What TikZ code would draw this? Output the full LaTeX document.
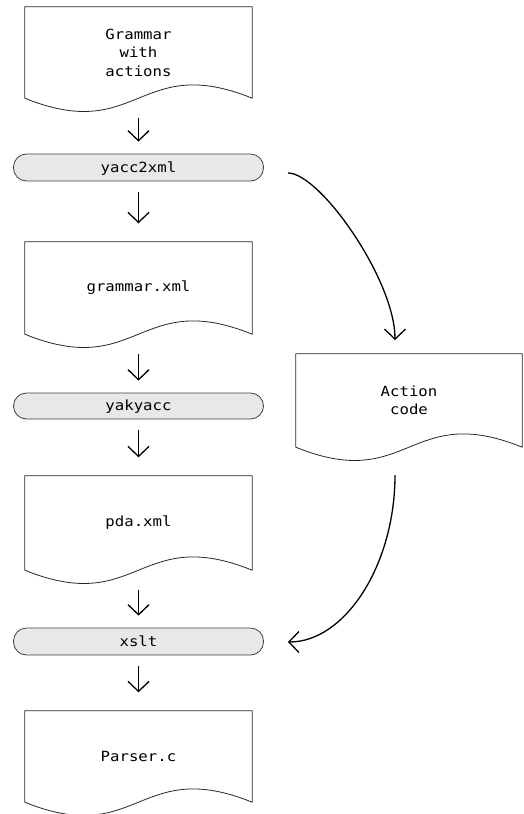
\documentclass[tikz,border=0pt]{standalone}
\usepackage{fontspec}
\setmonofont[FakeStretch=1.12]{DejaVu Sans Mono}
\usetikzlibrary{arrows.meta,calc}
\newcommand\docpath[1]{\draw[docline] (#1.south west) -- (#1.north west) -- (#1.north east) -- (#1.south east) .. controls ($(#1.south)+(0,-46)$) and ($(#1.south)+(0,46)$) .. cycle;}
\begin{document}
\begin{tikzpicture}[x=1pt,y=-1pt,
  every node/.style={font=\ttfamily\fontsize{14}{18.5}\selectfont},
  docbox/.style={inner sep=0pt, minimum width=227pt, minimum height=#1, align=center},
  docline/.style={draw=black!85, line width=0.8pt, line join=round},
  pill/.style={draw=black!75, fill=black!9, line width=0.8pt, rounded corners=13pt,
    minimum width=250pt, minimum height=27pt, inner sep=0pt, text height=11pt, text depth=2pt},
  flow/.style={line width=1.3pt, -{Straight Barb[length=10pt,width=21pt,line width=1.3pt]}},
  dtop/.style={flow, shorten <=19.5pt, shorten >=12pt},
  ptod/.style={flow, shorten <=11pt, shorten >=18.5pt}
]
\useasboundingbox (0,0) rectangle (524,814);
% documents
\node[docbox=91pt] (d1) at (138.5,52.5) {Grammar\\with\\actions};
\node[docbox=92pt] (d2) at (138.5,288) {grammar.xml};
\node[docbox=94pt] (d3) at (138.5,523) {pda.xml};
\node[docbox=91pt] (d4) at (138.5,756.5) {Parser.c};
\node[docbox=93pt, minimum width=226pt] (ac) at (409,400.5) {Action\\code};
\docpath{d1}
\docpath{d2}
\docpath{d3}
\docpath{d4}
\docpath{ac}
% programs
\node[pill] (p1) at (138.5,167.5) {yacc2xml};
\node[pill, minimum height=26pt] (p2) at (138.5,406) {yakyacc};
\node[pill] (p3) at (138.5,641.5) {xslt};
% flow arrows
\draw[dtop] (d1) -- (p1);
\draw[ptod] (p1) -- (d2);
\draw[dtop] (d2) -- (p2);
\draw[ptod] (p2) -- (d3);
\draw[dtop] (d3) -- (p3);
\draw[ptod] (p3) -- (d4);
% side branch
\coordinate (c1a) at (288,173);
\coordinate (c1b) at (395,340);
\draw[flow] (c1a) .. controls (320,173) and (395,280) .. (c1b);
\coordinate (c2a) at (395,475);
\coordinate (c2b) at (288,642);
\draw[flow] (c2a) .. controls (395,565) and (345,642) .. (c2b);
\end{tikzpicture}
\end{document}
